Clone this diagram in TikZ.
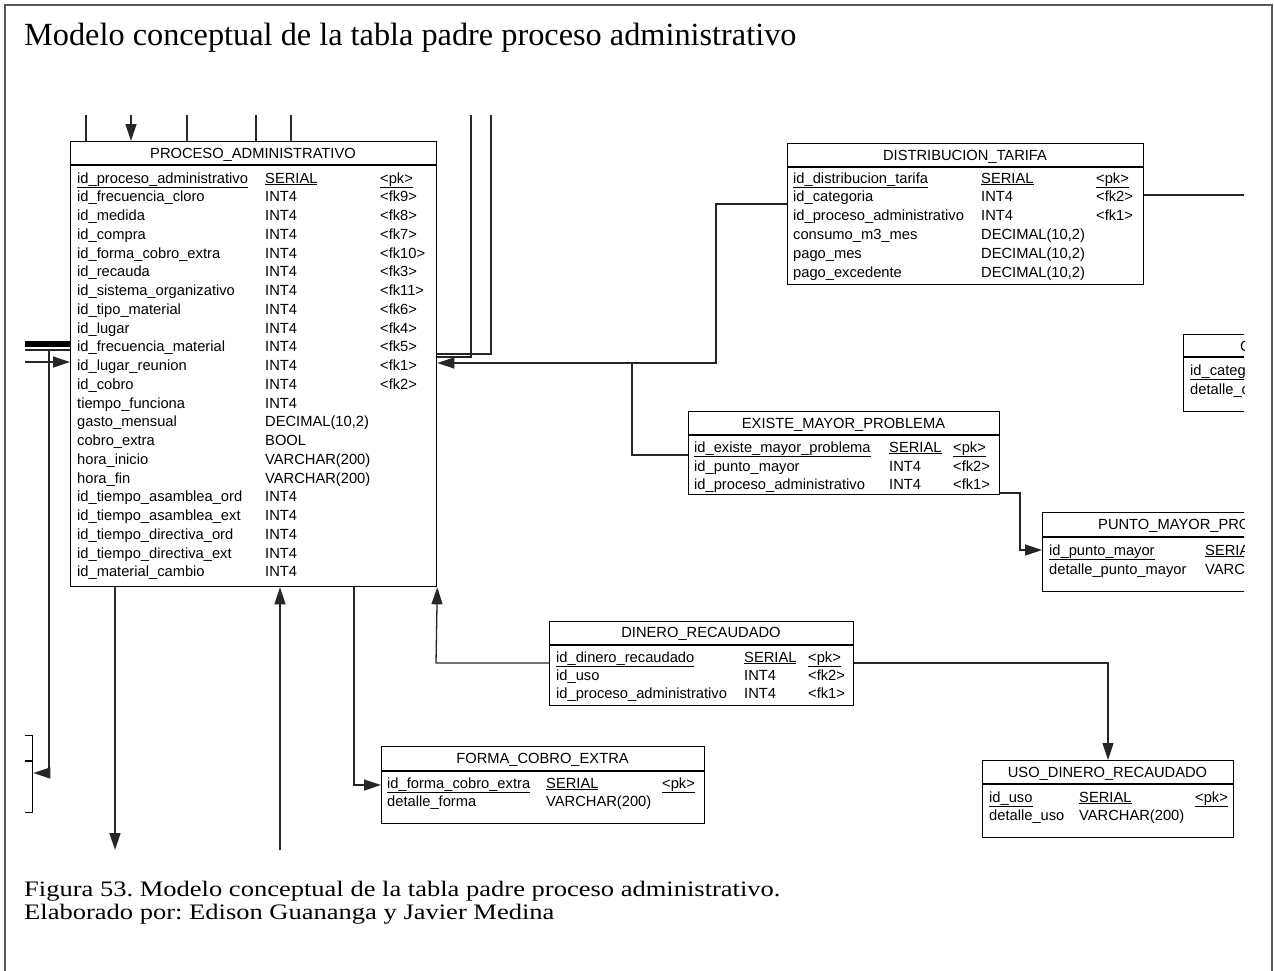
\documentclass[tikz,border=0pt]{standalone}
\usepackage{fontspec}
\setmainfont{Liberation Serif}
\newfontfamily\capfont[FakeStretch=1.2]{Liberation Serif}
\newfontfamily\tabfont{Liberation Sans}
\usetikzlibrary{arrows.meta}
\frenchspacing
\begin{document}
\begin{tikzpicture}[x=1pt,y=-1pt,
  tbox/.style={draw=black, line width=1.3pt, fill=white, inner sep=0, anchor=north west},
  ttxt/.style={font=\tabfont\fontsize{14.7}{16}\selectfont, anchor=base west, inner sep=0, text=black},
  hdr/.style={font=\tabfont\fontsize{14.7}{16}\selectfont, anchor=base, inner sep=0, text=black},
  conn/.style={draw=black!85, line width=1.3pt},
  arr/.style={conn, -{Triangle[length=17pt,width=11pt]}},
  frame/.style={draw=black!65, line width=2pt}]
\useasboundingbox (0,0) rectangle (1274,970);
% outer frame
\coordinate (fa) at (5,975);
\coordinate (fb) at (5,5);
\coordinate (fc) at (1272,5);
\coordinate (fd) at (1272,975);
\draw[frame] (fa) -- (fb) -- (fc) -- (fd);
\node[anchor=base west, inner sep=0, font=\fontsize{32.3}{36}\selectfont] (title) at (24,45) {Modelo conceptual de la tabla padre proceso administrativo};
\node[anchor=base west, inner sep=0, font=\capfont\fontsize{22.1}{26}\selectfont] (cap1) at (24,896) {Figura 53. Modelo conceptual de la tabla padre proceso administrativo.};
\node[anchor=base west, inner sep=0, font=\capfont\fontsize{22.1}{26}\selectfont] (cap2) at (24,919) {Elaborado por: Edison Guananga y Javier Medina};

\begin{scope}
\clip (25,115) rectangle (1244,852);
% ---------------- PROCESO_ADMINISTRATIVO
\node[tbox, minimum width=366pt, minimum height=445pt] (pa) at (70,141) {};
\draw[line width=1.3pt] (70,165) -- (436,165);
\node[hdr] (pa-h) at (253,158) {PROCESO\_ADMINISTRATIVO};
\node[ttxt] (pa-n0) at (77,183) {\underline{id\_proceso\_administrativo}};
\node[ttxt] (pa-t0) at (265,183) {\underline{SERIAL}};
\node[ttxt] (pa-k0) at (380,183) {\underline{<pk>}};
\foreach \n/\t/\k [count=\i] in {id\_frecuencia\_cloro/INT4/<fk9>, id\_medida/INT4/<fk8>, id\_compra/INT4/<fk7>, id\_forma\_cobro\_extra/INT4/<fk10>, id\_recauda/INT4/<fk3>, id\_sistema\_organizativo/INT4/<fk11>, id\_tipo\_material/INT4/<fk6>, id\_lugar/INT4/<fk4>, id\_frecuencia\_material/INT4/<fk5>, id\_lugar\_reunion/INT4/<fk1>, id\_cobro/INT4/<fk2>}{
  \pgfmathsetmacro\yy{183+18.76*\i}
  \node[ttxt] (pa-n\i) at (77,\yy) {\n};
  \node[ttxt] (pa-t\i) at (265,\yy) {\t};
  \node[ttxt] (pa-k\i) at (380,\yy) {\k};
}
\foreach \n/\t [count=\i from 12] in {tiempo\_funciona/INT4, gasto\_mensual/{DECIMAL(10,2)}, cobro\_extra/BOOL, hora\_inicio/VARCHAR(200), hora\_fin/VARCHAR(200), id\_tiempo\_asamblea\_ord/INT4, id\_tiempo\_asamblea\_ext/INT4, id\_tiempo\_directiva\_ord/INT4, id\_tiempo\_directiva\_ext/INT4, id\_material\_cambio/INT4}{
  \pgfmathsetmacro\yy{183+18.76*\i}
  \node[ttxt] (pa-n\i) at (77,\yy) {\n};
  \node[ttxt] (pa-t\i) at (265,\yy) {\t};
}

% ---------------- DISTRIBUCION_TARIFA
\node[tbox, minimum width=356pt, minimum height=141pt] (dt) at (787,143) {};
\draw[line width=1.3pt] (787,167) -- (1143,167);
\node[hdr] (dt-h) at (965,160) {DISTRIBUCION\_TARIFA};
\node[ttxt] (dt-n0) at (793,183) {\underline{id\_distribucion\_tarifa}};
\node[ttxt] (dt-t0) at (981,183) {\underline{SERIAL}};
\node[ttxt] (dt-k0) at (1096,183) {\underline{<pk>}};
\foreach \n/\t/\k [count=\i] in {id\_categoria/INT4/<fk2>, id\_proceso\_administrativo/INT4/<fk1>}{
  \pgfmathsetmacro\yy{183+18.8*\i}
  \node[ttxt] (dt-n\i) at (793,\yy) {\n};
  \node[ttxt] (dt-t\i) at (981,\yy) {\t};
  \node[ttxt] (dt-k\i) at (1096,\yy) {\k};
}
\foreach \n/\t [count=\i from 3] in {consumo\_m3\_mes/{DECIMAL(10,2)}, pago\_mes/{DECIMAL(10,2)}, pago\_excedente/{DECIMAL(10,2)}}{
  \pgfmathsetmacro\yy{183+18.8*\i}
  \node[ttxt] (dt-n\i) at (793,\yy) {\n};
  \node[ttxt] (dt-t\i) at (981,\yy) {\t};
}

% ---------------- CATEGORIA (cut)
\node[tbox, minimum width=220pt, minimum height=77pt] (ca) at (1183,334) {};
\draw[line width=1.3pt] (1183,357) -- (1403,357);
\node[ttxt] (ca-h) at (1240,351) {CATEGORIA};
\node[ttxt] (ca-n0) at (1190,375) {\underline{id\_categoria}};
\node[ttxt] (ca-n1) at (1190,394) {detalle\_categoria};

% ---------------- EXISTE_MAYOR_PROBLEMA
\node[tbox, minimum width=311pt, minimum height=83pt] (em) at (688,411) {};
\draw[line width=1.3pt] (688,435) -- (999,435);
\node[hdr] (em-h) at (843.5,428) {EXISTE\_MAYOR\_PROBLEMA};
\node[ttxt] (em-n0) at (694,452) {\underline{id\_existe\_mayor\_problema}};
\node[ttxt] (em-t0) at (889,452) {\underline{SERIAL}};
\node[ttxt] (em-k0) at (953,452) {\underline{<pk>}};
\node[ttxt] (em-n1) at (694,471) {id\_punto\_mayor};
\node[ttxt] (em-t1) at (889,471) {INT4};
\node[ttxt] (em-k1) at (953,471) {<fk2>};
\node[ttxt] (em-n2) at (694,489) {id\_proceso\_administrativo};
\node[ttxt] (em-t2) at (889,489) {INT4};
\node[ttxt] (em-k2) at (953,489) {<fk1>};

% ---------------- PUNTO_MAYOR_PROBLEMA (cut)
\node[tbox, minimum width=260pt, minimum height=79pt] (pm) at (1042,512) {};
\draw[line width=1.3pt] (1042,537) -- (1302,537);
\node[ttxt] (pm-h) at (1098,529) {PUNTO\_MAYOR\_PROBLEMA};
\node[ttxt] (pm-n0) at (1049,555) {\underline{id\_punto\_mayor}};
\node[ttxt] (pm-t0) at (1205,555) {\underline{SERIAL}};
\node[ttxt] (pm-n1) at (1049,574) {detalle\_punto\_mayor};
\node[ttxt] (pm-t1) at (1205,574) {VARCHAR(200)};

% ---------------- DINERO_RECAUDADO
\node[tbox, minimum width=304pt, minimum height=84pt] (dr) at (549,621) {};
\draw[line width=1.3pt] (549,645) -- (853,645);
\node[hdr] (dr-h) at (701,637) {DINERO\_RECAUDADO};
\node[ttxt] (dr-n0) at (556,662) {\underline{id\_dinero\_recaudado}};
\node[ttxt] (dr-t0) at (744,662) {\underline{SERIAL}};
\node[ttxt] (dr-k0) at (808,662) {\underline{<pk>}};
\node[ttxt] (dr-n1) at (556,680) {id\_uso};
\node[ttxt] (dr-t1) at (744,680) {INT4};
\node[ttxt] (dr-k1) at (808,680) {<fk2>};
\node[ttxt] (dr-n2) at (556,698) {id\_proceso\_administrativo};
\node[ttxt] (dr-t2) at (744,698) {INT4};
\node[ttxt] (dr-k2) at (808,698) {<fk1>};

% ---------------- USO_DINERO_RECAUDADO
\node[tbox, minimum width=251pt, minimum height=77pt] (ud) at (982,760) {};
\draw[line width=1.3pt] (982,784) -- (1233,784);
\node[hdr] (ud-h) at (1107.5,777) {USO\_DINERO\_RECAUDADO};
\node[ttxt] (ud-n0) at (989,802) {\underline{id\_uso}};
\node[ttxt] (ud-t0) at (1079,802) {\underline{SERIAL}};
\node[ttxt] (ud-k0) at (1195,802) {\underline{<pk>}};
\node[ttxt] (ud-n1) at (989,820) {detalle\_uso};
\node[ttxt] (ud-t1) at (1079,820) {VARCHAR(200)};

% ---------------- FORMA_COBRO_EXTRA
\node[tbox, minimum width=323pt, minimum height=77pt] (fce) at (381,746) {};
\draw[line width=1.3pt] (381,771) -- (704,771);
\node[hdr] (fce-h) at (542.5,763) {FORMA\_COBRO\_EXTRA};
\node[ttxt] (fce-n0) at (387,788) {\underline{id\_forma\_cobro\_extra}};
\node[ttxt] (fce-t0) at (546,788) {\underline{SERIAL}};
\node[ttxt] (fce-k0) at (662,788) {\underline{<pk>}};
\node[ttxt] (fce-n1) at (387,806) {detalle\_forma};
\node[ttxt] (fce-t1) at (546,806) {VARCHAR(200)};

% ---------------- left cut table
\node[tbox, minimum width=150pt, minimum height=77pt] (lt) at (-118,735) {};
\draw[line width=1.3pt] (-118,761) -- (32,761);

% ---------------- connectors
% top
\coordinate (t1) at (86,110);
\coordinate (t2) at (131,110);
\coordinate (t3) at (187,110);
\coordinate (t4) at (256,110);
\coordinate (t5) at (291,110);
\draw[conn] (t1) -- (t1 |- pa.north);
\draw[arr] (t2) -- (t2 |- pa.north);
\draw[conn] (t3) -- (t3 |- pa.north);
\draw[conn] (t4) -- (t4 |- pa.north);
\draw[conn] (t5) -- (t5 |- pa.north);
% right verticals
\coordinate (t6) at (471,110);
\coordinate (t7) at (491,110);
\coordinate (r1) at (471,357);
\coordinate (r2) at (491,354);
\draw[conn] (t6) -- (r1) -- (r1 -| pa.east);
\draw[conn] (t7) -- (r2) -- (r2 -| pa.east);
% distribucion -> proceso
\coordinate (d1) at (716,204);
\coordinate (j1) at (716,363);
\draw[arr] (d1 -| dt.west) -- (d1) -- (j1) -- (j1 -| pa.east);
% distribucion -> right
\coordinate (d2) at (1250,195);
\draw[conn] (d2 -| dt.east) -- (d2);
% existe -> proceso
\coordinate (e1) at (632,455);
\draw[conn] (e1 -| em.west) -- (e1) -- (e1 |- j1);
% existe -> punto
\coordinate (p1) at (1020,493);
\coordinate (p2) at (1020,550);
\draw[arr] (p1 -| em.east) -- (p1) -- (p2) -- (p2 -| pm.west);
% dinero -> proceso
\coordinate (c1) at (436,663);
\draw[arr] (c1 -| dr.west) -- (c1) -- (pa.south east);
% dinero -> uso
\coordinate (c2) at (1108,663);
\draw[arr] (c2 -| dr.east) -- (c2) -- (c2 |- ud.north);
% proceso -> forma
\coordinate (f1) at (354,785);
\draw[arr] (f1 |- pa.south) -- (f1) -- (f1 -| fce.west);
% bottom
\coordinate (b1) at (115,850);
\coordinate (b2) at (280,850);
\draw[arr] (b1 |- pa.south) -- (b1);
\draw[arr] (b2) -- (b2 |- pa.south);
% left
\coordinate (l1) at (20,344);
\coordinate (l2) at (20,350);
\coordinate (l3) at (49,773);
\coordinate (l4) at (20,362);
\draw[conn, draw=black, line width=5.5pt] (l1) -- (l1 -| pa.west);
\draw[conn] (l2) -- (l2 -| pa.west);
\draw[arr] (l3 |- l2) -- (l3) -- (l3 -| lt.east);
\draw[arr] (l4) -- (l4 -| pa.west);
\end{scope}
\end{tikzpicture}
\end{document}
